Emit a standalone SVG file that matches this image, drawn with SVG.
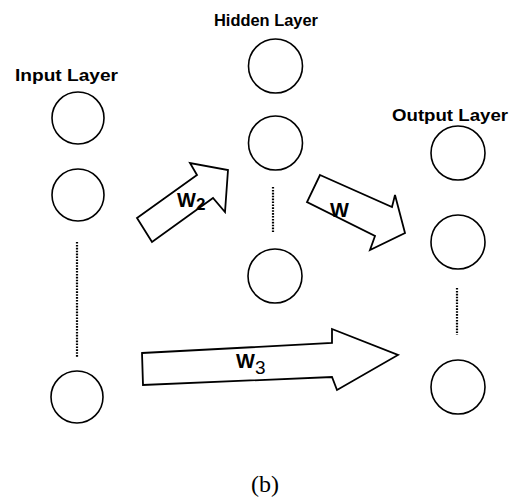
<svg xmlns="http://www.w3.org/2000/svg" width="515" height="502" viewBox="0 0 515 502">
  <style>
    .node { fill: #fff; stroke: #000; stroke-width: 1.6; }
    .dots { stroke: #000; stroke-width: 2.2; stroke-dasharray: 1.6 1.3; fill: none; }
    .arrow { fill: #fff; stroke: #000; stroke-width: 1.8; stroke-linejoin: miter; }
    .lbl { font-family: "Liberation Sans", Arial, sans-serif; font-weight: bold; font-size: 16px; fill: #000; }
    .wlbl { font-family: "Liberation Sans", Arial, sans-serif; font-weight: bold; font-size: 20px; fill: #000; }
    .cap { font-family: "Liberation Serif", "Times New Roman", serif; font-size: 24px; fill: #000; }
  </style>
  <rect width="515" height="502" fill="#fff"/>

  <!-- input layer -->
  <g id="input-layer">
    <text class="lbl" x="15" y="81" textLength="103" lengthAdjust="spacingAndGlyphs">Input Layer</text>
    <circle class="node" cx="78" cy="118" r="26"/>
    <circle class="node" cx="78" cy="195" r="26"/>
    <line class="dots" x1="77" y1="242" x2="77" y2="357"/>
    <circle class="node" cx="77" cy="397" r="26"/>
  </g>

  <!-- hidden layer -->
  <g id="hidden-layer">
    <text class="lbl" x="214" y="26" textLength="104" lengthAdjust="spacingAndGlyphs">Hidden Layer</text>
    <circle class="node" cx="275.5" cy="66" r="27"/>
    <circle class="node" cx="275.5" cy="143" r="27"/>
    <line class="dots" x1="273" y1="187" x2="273" y2="233"/>
    <circle class="node" cx="275" cy="276" r="27"/>
  </g>

  <!-- output layer -->
  <g id="output-layer">
    <text class="lbl" x="392" y="121" textLength="116" lengthAdjust="spacingAndGlyphs">Output Layer</text>
    <circle class="node" cx="458" cy="153" r="27"/>
    <circle class="node" cx="458" cy="242" r="27"/>
    <line class="dots" x1="457" y1="288" x2="457" y2="335"/>
    <circle class="node" cx="458" cy="387" r="27"/>
  </g>

  <!-- weight arrows -->
  <g id="connectors">
    <g id="w2">
      <polygon class="arrow" points="137,218 197,175 190,163 228,170 225,212 213,198 152,242"/>
      <text class="wlbl" x="177" y="207">W<tspan font-size="17" dy="3">2</tspan></text>
    </g>
    <g id="w">
      <polygon class="arrow" points="320,175 392,207 395,195 405,233 370,250 375,236 307,202"/>
      <text class="wlbl" x="330" y="217">W</text>
    </g>
    <g id="w3">
      <polygon class="arrow" points="142,353 332,343 332,329 398,355 337,390 332,377 143,385"/>
      <text class="wlbl" x="236" y="368">W<tspan font-size="19" font-weight="normal" dy="6">3</tspan></text>
    </g>
  </g>

  <text class="cap" x="265" y="492" text-anchor="middle">(b)</text>
</svg>
